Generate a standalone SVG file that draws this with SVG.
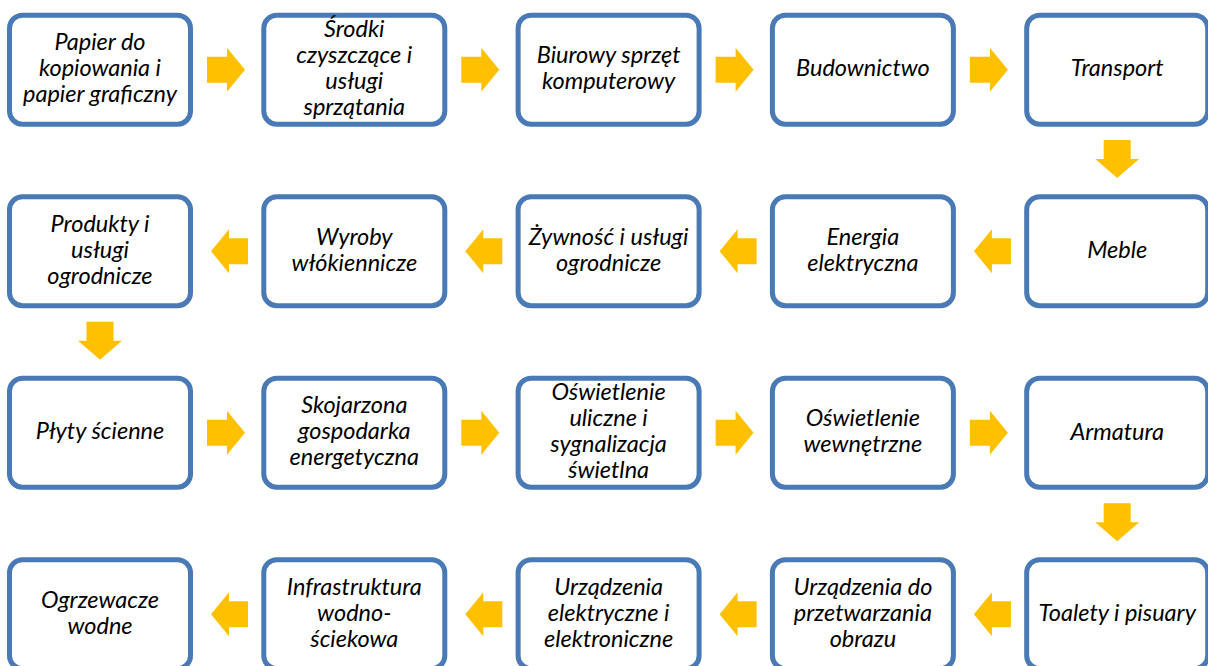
<svg xmlns="http://www.w3.org/2000/svg" width="1208" height="666" viewBox="0 0 1208 666">
<style>
.box{fill:#fff;stroke:#4A7AB5;stroke-width:5}
.arr{fill:#FFC000}
text{font-family:Lato,"Liberation Sans",sans-serif;font-style:italic;font-weight:400;font-size:23.5px;fill:#000;text-anchor:middle}
</style>
<rect width="1208" height="666" fill="#fff"/>
<g id="connectors">
<path class="arr" d="M207,56.7H227V47.7L245,69.7L227,91.7V82.7H207Z"/>
<path class="arr" d="M461.3,56.7H481.3V47.7L499.3,69.7L481.3,91.7V82.7H461.3Z"/>
<path class="arr" d="M715.6,56.7H735.6V47.7L753.6,69.7L735.6,91.7V82.7H715.6Z"/>
<path class="arr" d="M969.9,56.7H989.9V47.7L1007.9,69.7L989.9,91.7V82.7H969.9Z"/>
<path class="arr" d="M1103.7,140H1130.7V159H1139.2L1117.2,178L1095.2,159H1103.7Z"/>
<path class="arr" d="M1010.9,238.2H991.9V229.2L973.9,251.2L991.9,273.2V264.2H1010.9Z"/>
<path class="arr" d="M756.6,238.2H737.6V229.2L719.6,251.2L737.6,273.2V264.2H756.6Z"/>
<path class="arr" d="M502.3,238.2H483.3V229.2L465.3,251.2L483.3,273.2V264.2H502.3Z"/>
<path class="arr" d="M248,238.2H229V229.2L211,251.2L229,273.2V264.2H248Z"/>
<path class="arr" d="M86.5,321.7H113.5V340.7H122L100,359.7L78,340.7H86.5Z"/>
<path class="arr" d="M207,419.7H227V410.7L245,432.7L227,454.7V445.7H207Z"/>
<path class="arr" d="M461.3,419.7H481.3V410.7L499.3,432.7L481.3,454.7V445.7H461.3Z"/>
<path class="arr" d="M715.6,419.7H735.6V410.7L753.6,432.7L735.6,454.7V445.7H715.6Z"/>
<path class="arr" d="M969.9,419.7H989.9V410.7L1007.9,432.7L989.9,454.7V445.7H969.9Z"/>
<path class="arr" d="M1103.7,503.2H1130.7V522.2H1139.2L1117.2,541.2L1095.2,522.2H1103.7Z"/>
<path class="arr" d="M1010.9,601.2H991.9V592.2L973.9,614.2L991.9,636.2V627.2H1010.9Z"/>
<path class="arr" d="M756.6,601.2H737.6V592.2L719.6,614.2L737.6,636.2V627.2H756.6Z"/>
<path class="arr" d="M502.3,601.2H483.3V592.2L465.3,614.2L483.3,636.2V627.2H502.3Z"/>
<path class="arr" d="M248,601.2H229V592.2L211,614.2L229,636.2V627.2H248Z"/>
</g>
<g id="n1"><rect class="box" x="9.5" y="15.2" width="181" height="109" rx="13"/>
<text x="100" y="50">Papier do</text><text x="100" y="76">kopiowania i</text><text x="100" y="102">papier graficzny</text></g>
<g id="n2"><rect class="box" x="263.8" y="15.2" width="181" height="109" rx="13"/>
<text x="354.3" y="37">Środki</text><text x="354.3" y="63">czyszczące i</text><text x="354.3" y="89">usługi</text><text x="354.3" y="115">sprzątania</text></g>
<g id="n3"><rect class="box" x="518.1" y="15.2" width="181" height="109" rx="13"/>
<text x="608.6" y="63">Biurowy sprzęt</text><text x="608.6" y="89">komputerowy</text></g>
<g id="n4"><rect class="box" x="772.4" y="15.2" width="181" height="109" rx="13"/>
<text x="862.9" y="76">Budownictwo</text></g>
<g id="n5"><rect class="box" x="1026.7" y="15.2" width="181" height="109" rx="13"/>
<text x="1117.2" y="76">Transport</text></g>
<g id="n6"><rect class="box" x="1026.7" y="196.7" width="181" height="109" rx="13"/>
<text x="1117.2" y="257.5">Meble</text></g>
<g id="n7"><rect class="box" x="772.4" y="196.7" width="181" height="109" rx="13"/>
<text x="862.9" y="244.5">Energia</text><text x="862.9" y="270.5">elektryczna</text></g>
<g id="n8"><rect class="box" x="518.1" y="196.7" width="181" height="109" rx="13"/>
<text x="608.6" y="244.5">Żywność i usługi</text><text x="608.6" y="270.5">ogrodnicze</text></g>
<g id="n9"><rect class="box" x="263.8" y="196.7" width="181" height="109" rx="13"/>
<text x="354.3" y="244.5">Wyroby</text><text x="354.3" y="270.5">włókiennicze</text></g>
<g id="n10"><rect class="box" x="9.5" y="196.7" width="181" height="109" rx="13"/>
<text x="100" y="231.5">Produkty i</text><text x="100" y="257.5">usługi</text><text x="100" y="283.5">ogrodnicze</text></g>
<g id="n11"><rect class="box" x="9.5" y="378.2" width="181" height="109" rx="13"/>
<text x="100" y="439">Płyty ścienne</text></g>
<g id="n12"><rect class="box" x="263.8" y="378.2" width="181" height="109" rx="13"/>
<text x="354.3" y="413">Skojarzona</text><text x="354.3" y="439">gospodarka</text><text x="354.3" y="465">energetyczna</text></g>
<g id="n13"><rect class="box" x="518.1" y="378.2" width="181" height="109" rx="13"/>
<text x="608.6" y="400">Oświetlenie</text><text x="608.6" y="426">uliczne i</text><text x="608.6" y="452">sygnalizacja</text><text x="608.6" y="478">świetlna</text></g>
<g id="n14"><rect class="box" x="772.4" y="378.2" width="181" height="109" rx="13"/>
<text x="862.9" y="426">Oświetlenie</text><text x="862.9" y="452">wewnętrzne</text></g>
<g id="n15"><rect class="box" x="1026.7" y="378.2" width="181" height="109" rx="13"/>
<text x="1117.2" y="439.5">Armatura</text></g>
<g id="n16"><rect class="box" x="1026.7" y="559.7" width="181" height="109" rx="13"/>
<text x="1117.2" y="620.5">Toalety i pisuary</text></g>
<g id="n17"><rect class="box" x="772.4" y="559.7" width="181" height="109" rx="13"/>
<text x="862.9" y="594.5">Urządzenia do</text><text x="862.9" y="620.5">przetwarzania</text><text x="862.9" y="646.5">obrazu</text></g>
<g id="n18"><rect class="box" x="518.1" y="559.7" width="181" height="109" rx="13"/>
<text x="608.6" y="594.5">Urządzenia</text><text x="608.6" y="620.5">elektryczne i</text><text x="608.6" y="646.5">elektroniczne</text></g>
<g id="n19"><rect class="box" x="263.8" y="559.7" width="181" height="109" rx="13"/>
<text x="354.3" y="594.5">Infrastruktura</text><text x="354.3" y="620.5">wodno-</text><text x="354.3" y="646.5">ściekowa</text></g>
<g id="n20"><rect class="box" x="9.5" y="559.7" width="181" height="109" rx="13"/>
<text x="100" y="607.5">Ogrzewacze</text><text x="100" y="633.5">wodne</text></g>
</svg>
